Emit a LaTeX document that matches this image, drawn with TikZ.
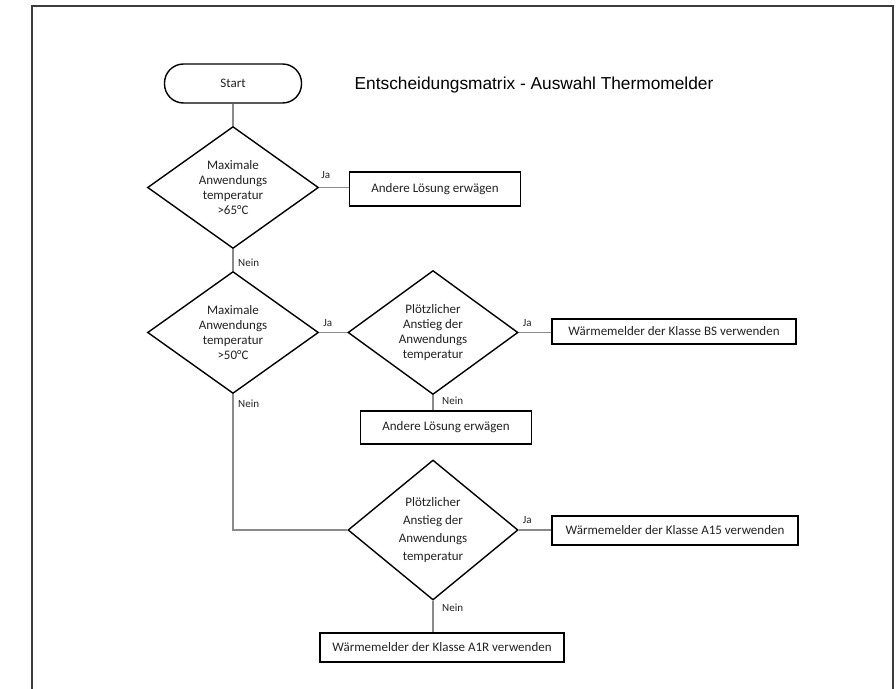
\documentclass[tikz,border=0pt]{standalone}
\usepackage{fontspec}
\setmainfont{Carlito}
\newfontfamily\titlefont{Liberation Sans}
\usetikzlibrary{shapes.geometric}
\definecolor{txt}{HTML}{222222}
\definecolor{conn}{HTML}{8A8A8A}
\definecolor{frame}{HTML}{3C3C3C}
\begin{document}
\begin{tikzpicture}[x=1pt,y=-1pt,
  every node/.style={text=txt},
  shapeline/.style={draw=black, line width=1.4pt},
  terminal/.style={shapeline, rectangle, rounded corners=19pt, minimum width=137pt, minimum height=39pt, inner sep=0pt, font=\fontsize{13}{15}\selectfont},
  decision/.style={shapeline, diamond, inner sep=0pt, minimum width=171pt, minimum height=121pt, align=center, font=\fontsize{13}{14.8}\selectfont},
  actionbox/.style={shapeline, rectangle, inner sep=0pt, align=center, font=\fontsize{13}{15}\selectfont},
  conn/.style={draw=conn, line width=1.5pt},
  lbl/.style={font=\fontsize{11}{12}\selectfont, inner sep=0pt},
  ttl/.style={font=\titlefont\fontsize{17.3}{20}\selectfont, text=black, inner sep=0pt}
]
\useasboundingbox (0,0) rectangle (896,688);
\fill[white] (0,0) rectangle (896,688);
\draw[frame, line width=2pt] (32,700) -- (32,6) -- (893,6) -- (893,700);

\node[terminal] (start) at (233,83.5) {Start};
\node[ttl] (title) at (534,85) {Entscheidungsmatrix - Auswahl Thermomelder};

\node[decision] (d1) at (233,187.5) {Maximale\\Anwendungs\\temperatur\\>65°C};
\node[actionbox, minimum width=171pt, minimum height=34pt] (b1) at (435,189) {Andere Lösung erwägen};

\node[decision] (d2) at (233,332.5) {Maximale\\Anwendungs\\temperatur\\>50°C};
\node[decision, minimum width=170pt] (d3) at (433,332.5) {Plötzlicher\\Anstieg der\\Anwendungs\\temperatur};
\node[actionbox, minimum width=244pt, minimum height=25pt] (b2) at (674,331.5) {Wärmemelder der Klasse BS verwenden};
\node[actionbox, minimum width=171pt, minimum height=33pt] (b3) at (446,427.5) {Andere Lösung erwägen};

\node[decision, minimum width=170pt, minimum height=140pt, font=\fontsize{13}{18}\selectfont] (d4) at (433,530) {Plötzlicher\\Anstieg der\\Anwendungs\\temperatur};
\node[actionbox, minimum width=246pt, minimum height=29pt] (b4) at (675,530.5) {Wärmemelder der Klasse A15 verwenden};
\node[actionbox, minimum width=244pt, minimum height=29pt] (b5) at (442,647.5) {Wärmemelder der Klasse A1R verwenden};

\draw[conn] (start.south) -- (d1.north);
\draw[conn] (d1.east) -- (d1.east -| b1.west);
\draw[conn] (d1.south) -- (d2.north);
\draw[conn] (d2.east) -- (d3.west);
\draw[conn] (d3.east) -- (b2.west |- d3.east);
\draw[conn] (d3.south) -- (d3.south |- b3.north);
\draw[conn] (d2.south) -- (d2.south |- d4.west) -- (d4.west);
\draw[conn] (d4.east) -- (d4.east -| b4.west);
\draw[conn] (d4.south) -- (d4.south |- b5.north);

\node[lbl, anchor=south west] (j1) at ([xshift=2pt,yshift=9pt]d1.east) {Ja};
\node[lbl, anchor=south west] (j2) at ([xshift=4pt,yshift=6pt]d2.east) {Ja};
\node[lbl, anchor=south west] (j3) at ([xshift=4pt,yshift=6pt]d3.east) {Ja};
\node[lbl, anchor=south west] (j4) at ([xshift=4pt,yshift=6pt]d4.east) {Ja};
\node[lbl, anchor=west] (n1) at ([xshift=5pt,yshift=-14pt]d1.south) {Nein};
\node[lbl, anchor=west] (n2) at ([xshift=5pt,yshift=-10pt]d2.south) {Nein};
\node[lbl, anchor=west] (n3) at ([xshift=9pt,yshift=-6pt]d3.south) {Nein};
\node[lbl, anchor=west] (n4) at ([xshift=9pt,yshift=-7pt]d4.south) {Nein};
\end{tikzpicture}
\end{document}
